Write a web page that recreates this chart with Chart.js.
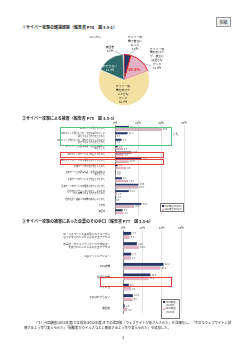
<!DOCTYPE html>
<html>
<head>
<meta charset="utf-8">
<script src="https://cdn.jsdelivr.net/npm/chart.js@4"></script>
<style>
  body { margin: 0; background: #fff; font-family: "Noto Sans CJK JP", sans-serif; color: #222; }
  #page { position: relative; width: 250px; height: 353px; overflow: hidden; }
  .abs { position: absolute; }
  .title { font-size: 4px; font-weight: bold; white-space: nowrap; }
  .box { position: absolute; box-sizing: border-box; }
  .leg { position: absolute; border: 0.5px solid #777; background: #fff; font-size: 2.4px; line-height: 3.4px; padding: 0.6px 1px; box-sizing: border-box; white-space: nowrap; }
  .sw { display: inline-block; width: 2px; height: 2px; margin-right: 0.5px; vertical-align: middle; }
</style>
</head>
<body>
<div id="page">
  <div class="abs" style="left:216px;top:17px;width:13px;height:8px;border:0.5px solid #999;background:#eee;font-size:4px;line-height:8px;text-align:center;">別紙</div>

  <div class="abs title" style="left:22px;top:24px;">①サイバー攻撃の遭遇経験（報告書 P74　図 3.5-1）</div>
  <canvas id="pie" class="abs" width="130" height="86" style="left:60px;top:30px;"></canvas>

  <div class="abs title" style="left:22px;top:115px;">②サイバー攻撃による被害（報告書 P75　図 3.5-3）</div>
  <canvas id="bar2" class="abs" width="200" height="100" style="left:0px;top:118px;"></canvas>
  <div class="box" style="left:60px;top:127px;width:112px;height:19px;border:1px solid #55c47f;"></div>
  <div class="abs" style="left:173px;top:132px;font-size:3px;">(*1)</div>
  <div class="box" style="left:60px;top:151.5px;width:104px;height:6.5px;border:1px solid #e84040;"></div>
  <div class="box" style="left:60px;top:158.5px;width:104px;height:6.5px;border:1px solid #e84040;"></div>
  <div class="leg" style="left:160px;top:203px;width:24px;height:9px;font-size:2.2px;line-height:3.5px;">
    <div><span class="sw" style="background:#263668"></span>2013年度(n=260)</div>
    <div><span class="sw" style="background:#e7b1c4"></span>2012年度(n=283)</div>
  </div>

  <div class="abs title" style="left:22px;top:218px;">③サイバー攻撃の被害にあった企業のその手口（報告書 P77　図 3.5-6）</div>
  <canvas id="bar3" class="abs" width="200" height="100" style="left:0px;top:221px;"></canvas>
  <div class="box" style="left:100px;top:277px;width:72px;height:10px;border:1px solid #e84040;"></div>
  <div class="leg" style="left:161px;top:299px;width:19px;height:20px;">
    <div><span class="sw" style="background:#263668"></span>2013年度</div>
    <div style="text-align:center">(n=260)</div>
    <div><span class="sw" style="background:#e7b1c4"></span>2012年度</div>
    <div style="text-align:center">(n=283)</div>
  </div>

  <div class="abs" style="left:24px;top:320px;width:208px;font-size:3.3px;line-height:5px;text-indent:10px;">（*1）今回調査(2013年度)では前年(2012年度)までの選択肢「ウェブサイトが改ざんされた」を詳細化し、「不正なウェブサイトに誘導するよう作り変えられた」「閲覧者がウイルスなどに感染するよう作り変えられた」を追加した。</div>
  <div class="abs" style="left:122px;top:334px;font-size:4px;">3</div>
</div>

<script>
// ① 被害経験（円グラフ）
const pieLabels = ['サイバー攻撃で被害にあった', 'サイバー攻撃を受けたが、被害には至らなかった', 'サイバー攻撃を受けたことがなかった', 'わからない', '無回答'];
const pieValues = [4.4, 14.9, 62.3, 17.8, 0.6];
const pieColors = ['#263668', '#e7b1c4', '#f5e0a3', '#2c6b69', '#ffffff'];

// ② 被害の内容
const cats2 = [
  'Webサイトが改ざんされた',
  ['Webサイトが改ざんされ、不正なWebサイトに', '誘導するよう作り変えられた'],
  ['Webサイトが改ざんされ、閲覧者がウイルスなどに', '感染するよう作り変えられた'],
  ['Webサイト上の顧客情報、従業員情報等が', '漏えいした'],
  'Webサイトのサービスが停止させられた',
  'Webサイトのサービスの機能が低下させられた',
  '業務サーバの内容が改ざんされた',
  ['業務サーバ上の顧客情報、従業員情報等が', '漏えいした'],
  '業務サーバのサービスが停止させられた',
  '業務サーバのサービスの機能が低下させられた',
  ['社内のPCがウイルスに感染し、第三者の', 'PCを攻撃するよう作り変えられた'],
  '他の企業・組織への攻撃の踏み台にされた',
  'その他',
  '無回答'
];
const dam2013 = [12.2, 11.1, 5.8, 2.6, 14.5, 23.2, 2.6, 0.9, 6.1, 20.6, 12.2, 1.3, 23.2, 6.7];
const dam2012 = [40.6, 0.7, 0.7, 6.7, 7.3, 12.0, 9.6, 0.9, 11.3, 20.0, 1.7, 0.0, 16.5, 7.2];

// ③ 攻撃の手口
const cats3 = [
  ['ID・パスワードを盗み取られてユーザに', 'なりすまされたことによる不正アクセス'],
  ['脆弱性（セキュリティホールや未修正）', 'を突かれたことによる不正アクセス'],
  'SQLインジェクション',
  'DoS攻撃',
  '標的型攻撃',
  'その他',
  '手口はわからない',
  '無回答'
];
const way2013 = [8.7, 14.6, 8.7, 42.2, 28.6, 6.3, 10.4, 1.9];
const way2012 = [6.8, 16.6, 8.1, 38.8, 26.4, 8.2, 9.8, 4.2];

const xTicks = [0, 20, 40, 60];
const FONT = '"Noto Sans CJK JP", sans-serif';

// 円グラフのラベル（中心からのずれ）
const pieText = [
  { lines: ['サイバー攻', '撃で被害に', 'あった', '4.4%'], dx: 11, dy: -37, lead: [11, -30] },
  { lines: ['サイバー攻', '撃を受けた', 'が、被害に', 'は至らな', 'かった', '14.9%'], dx: 33, dy: -22, lead: [27, -14] },
  { lines: ['サイバー攻', '撃を受けた', 'ことがな', 'かった', '62.3%'], dx: -1, dy: 14 },
  { lines: ['わからない', '17.8%'], dx: -14, dy: -12, color: '#fff' },
  { lines: ['無回答', '0.6%'], dx: -14, dy: -31, lead: [-9, -29] }
];

const pieLabelPlugin = {
  id: 'pieLabelPlugin',
  afterDatasetsDraw(chart) {
    const ctx = chart.ctx;
    const arcs = chart.getDatasetMeta(0).data;
    const cx = arcs[0].x, cy = arcs[0].y, r = arcs[0].outerRadius;
    ctx.save();
    ctx.font = '2.8px ' + FONT;
    ctx.textAlign = 'center';
    ctx.textBaseline = 'middle';
    pieText.forEach((t, i) => {
      const a = arcs[i];
      const mid = (a.startAngle + a.endAngle) / 2;
      if (t.lead) {
        ctx.strokeStyle = '#555';
        ctx.lineWidth = 0.4;
        ctx.beginPath();
        ctx.moveTo(cx + Math.cos(mid) * r * 0.95, cy + Math.sin(mid) * r * 0.95);
        ctx.lineTo(cx + t.lead[0], cy + t.lead[1]);
        ctx.stroke();
      }
      ctx.fillStyle = t.color || '#222';
      const lh = 3.8;
      const y0 = cy + t.dy - (t.lines.length - 1) * lh / 2;
      t.lines.forEach((s, k) => ctx.fillText(s, cx + t.dx, y0 + k * lh));
    });
    // 被害あり＋被害なし の合計
    const total = (pieValues[0] + pieValues[1]).toFixed(1) + '%';
    ctx.font = 'bold 4px ' + FONT;
    ctx.fillStyle = '#e0202a';
    ctx.fillText(total, cx + 10, cy - 11);
    ctx.font = '2.6px ' + FONT;
    ctx.fillStyle = '#333';
    ctx.fillText('(n=1,372)', cx - 29, cy - 43);
    ctx.restore();
  }
};

new Chart(document.getElementById('pie'), {
  type: 'pie',
  data: {
    labels: pieLabels,
    datasets: [{
      data: pieValues,
      backgroundColor: pieColors,
      borderColor: ['#e0202a', '#e0202a', '#ffffff', '#ffffff', '#999999'],
      borderWidth: [1, 1, 0.5, 0.5, 0.3]
    }]
  },
  options: {
    responsive: false,
    animation: false,
    layout: { padding: { left: 38, right: 40, top: 24, bottom: 10 } },
    plugins: { legend: { display: false }, tooltip: { enabled: false } }
  },
  plugins: [pieLabelPlugin]
});

// 棒の右に値を書く
const valueLabels = {
  id: 'valueLabels',
  afterDatasetsDraw(chart, args, opts) {
    const ctx = chart.ctx;
    ctx.save();
    ctx.font = opts.size + 'px ' + FONT;
    ctx.fillStyle = '#333';
    ctx.textBaseline = 'middle';
    chart.data.datasets.forEach((ds, i) => {
      chart.getDatasetMeta(i).data.forEach((bar, j) => {
        ctx.fillText(ds.data[j].toFixed(1), bar.x + 1.2, bar.y);
      });
    });
    ctx.restore();
  }
};

function barChart(id, cats, a, b, o) {
  return new Chart(document.getElementById(id), {
    type: 'bar',
    data: {
      labels: cats,
      datasets: [
        { label: '2013年度', data: a, backgroundColor: '#263668', borderColor: '#1b2548', borderWidth: 0.3 },
        { label: '2012年度', data: b, backgroundColor: '#e7b1c4', borderColor: '#6a4a58', borderWidth: 0.4 }
      ]
    },
    options: {
      indexAxis: 'y',
      responsive: false,
      animation: false,
      layout: { padding: { right: o.right, bottom: o.bottom, top: 0, left: 0 } },
      datasets: { bar: { categoryPercentage: o.cat, barPercentage: 0.9 } },
      scales: {
        x: {
          position: 'top',
          min: 0, max: 60,
          afterFit: s => { s.height = o.top; },
          afterBuildTicks: s => { s.ticks = xTicks.map(v => ({ value: v })); },
          ticks: { callback: v => v + '%', font: { size: 2.8, family: FONT }, color: '#333', padding: 0.5 },
          grid: { color: '#bbbbbb', lineWidth: 0.4, drawTicks: false },
          border: { display: false }
        },
        y: {
          afterFit: s => { s.width = o.left; },
          ticks: { font: { size: o.font, family: FONT, lineHeight: 1.15 }, color: '#333', padding: o.pad, autoSkip: false },
          grid: { display: false },
          border: { color: '#333', width: 0.5 }
        }
      },
      plugins: { legend: { display: false }, tooltip: { enabled: false }, valueLabels: { size: 2.3 } }
    },
    plugins: [valueLabels]
  });
}

barChart('bar2', cats2, dam2013, dam2012, { left: 115, right: 16, top: 7, bottom: 3, cat: 0.82, font: 2.1, pad: 2 });
barChart('bar3', cats3, way2013, way2012, { left: 123, right: 19, top: 9, bottom: 1, cat: 0.72, font: 2.6, pad: 5 });
</script>
</body>
</html>
